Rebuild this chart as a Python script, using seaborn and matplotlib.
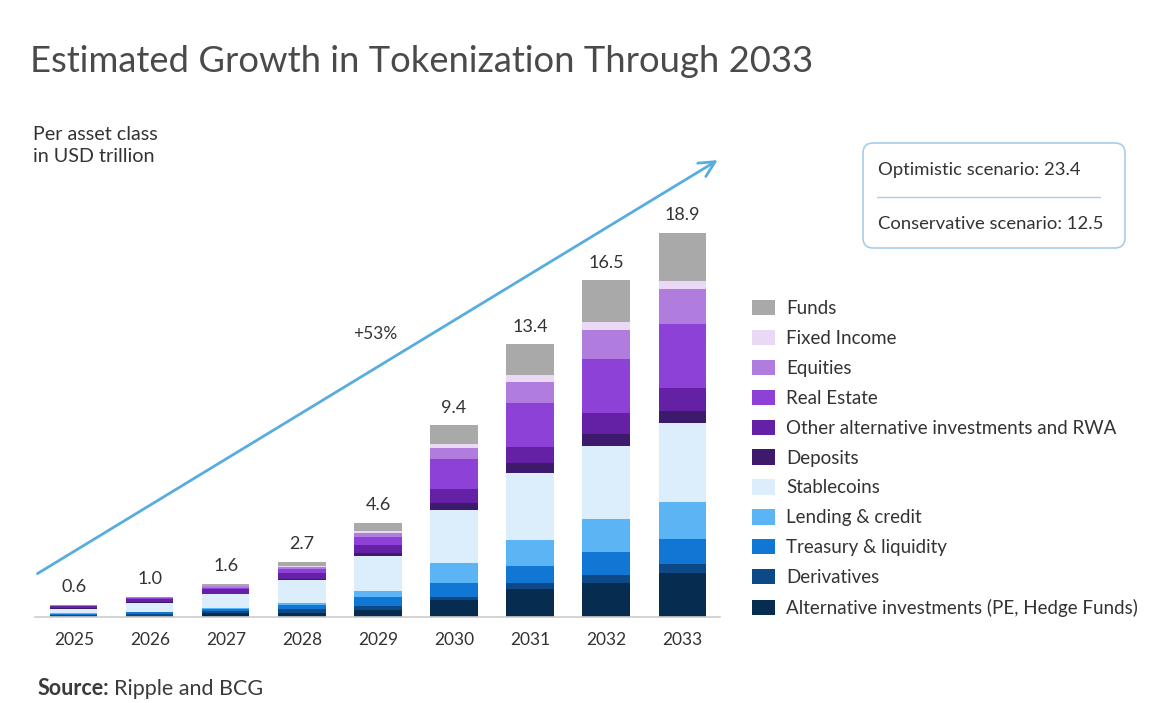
import pandas as pd
import matplotlib.pyplot as plt
import seaborn as sns
from matplotlib.patches import Patch, FancyBboxPatch

# Values, USD trillion per asset class
years = [2025, 2026, 2027, 2028, 2029, 2030, 2031, 2032, 2033]
totals = ["0.6", "1.0", "1.6", "2.7", "4.6", "9.4", "13.4", "16.5", "18.9"]

funds        = [0.01, 0.01, 0.10, 0.21, 0.39, 0.90, 1.51, 2.05, 2.37]
fixed_income = [0.01, 0.01, 0.02, 0.05, 0.11, 0.21, 0.33, 0.41, 0.38]
equities     = [0.02, 0.03, 0.10, 0.11, 0.20, 0.52, 1.03, 1.42, 1.75]
real_estate  = [0.04, 0.08, 0.05, 0.20, 0.41, 1.52, 2.16, 2.63, 3.13]
other_alt    = [0.10, 0.15, 0.22, 0.28, 0.38, 0.64, 0.79, 1.05, 1.10]
deposits     = [0.02, 0.03, 0.04, 0.05, 0.15, 0.38, 0.49, 0.57, 0.59]
stablecoins  = [0.22, 0.42, 0.65, 1.15, 1.73, 2.57, 3.27, 3.57, 3.88]
lending      = [0.02, 0.03, 0.05, 0.10, 0.28, 1.00, 1.31, 1.64, 1.85]
treasury     = [0.06, 0.10, 0.13, 0.20, 0.44, 0.69, 0.82, 1.11, 1.21]
derivatives  = [0.06, 0.08, 0.08, 0.15, 0.18, 0.16, 0.31, 0.41, 0.43]
alt_invest   = [0.04, 0.06, 0.20, 0.22, 0.36, 0.82, 1.36, 1.67, 2.17]

assets = ["Funds", "Fixed Income", "Equities", "Real Estate",
          "Other alternative investments and RWA", "Deposits", "Stablecoins",
          "Lending & credit", "Treasury & liquidity", "Derivatives",
          "Alternative investments (PE, Hedge Funds)"]
series = [funds, fixed_income, equities, real_estate, other_alt, deposits,
          stablecoins, lending, treasury, derivatives, alt_invest]
colors = ["#a9a9a9", "#ead9f5", "#b07ddf", "#8d41d6", "#6521a6", "#3d1a6b",
          "#dcedfb", "#5bb5f4", "#1177d4", "#0e4987", "#062c50"]

rows = []
for name, vals in zip(assets, series):
    for y, v in zip(years, vals):
        rows.append({"year": y, "asset": name, "value": v})
df = pd.DataFrame(rows)

sns.set_theme(style="white")
plt.rcParams["font.family"] = ["Lato", "DejaVu Sans"]
text_color = "#333333"

fig = plt.figure(figsize=(11.69, 7.03), dpi=100)
ax = fig.add_axes([0.03, 0.1223, 0.586, 0.7824])

# stacked bars: first hue level ends on top
sns.histplot(data=df, x="year", hue="asset", weights="value", hue_order=assets,
             palette=dict(zip(assets, colors)), multiple="stack", discrete=True,
             shrink=0.62, alpha=1, linewidth=0, legend=False, ax=ax)

ax.set_xlim(2024.49, 2033.5)
ax.set_ylim(0, 27)
ax.set_xlabel("")
ax.set_ylabel("")
ax.set_yticks([])
ax.set_xticks(years)
ax.set_xticklabels([str(y) for y in years], fontsize=12.5, color=text_color)
ax.tick_params(axis="x", length=0, pad=11)
sns.despine(ax=ax, left=True)
ax.spines["bottom"].set_color("#cccccc")
ax.spines["bottom"].set_linewidth(1.2)

# total labels above each stack
stack_tops = df.groupby("year")["value"].sum()
for y, label in zip(years, totals):
    ax.annotate(label, (y, stack_tops[y]), xytext=(0, 9), textcoords="offset points",
                ha="center", va="baseline", fontsize=13, color=text_color)

# growth arrow
ax.annotate("", xy=(2033.5, 22.5), xytext=(2024.49, 2.06),
            arrowprops=dict(arrowstyle="->", color="#57ace0", lw=2, mutation_scale=28),
            annotation_clip=False)
ax.text(2028.96, 13.9, "+53%", ha="center", va="center", fontsize=12.5, color=text_color)

# title and notes
fig.text(0.026, 0.912, "Estimated Growth in Tokenization Through 2033", fontsize=26.2,
         fontweight="normal", color="#4a4a4a", ha="left", va="center")
fig.text(0.028, 0.793, "Per asset class\nin USD trillion", fontsize=14.2,
         color=text_color, ha="left", va="center", linespacing=1.3)

# legend
handles = [Patch(facecolor=c, edgecolor="none") for c in colors]
fig.legend(handles, assets, loc="upper left", bbox_to_anchor=(752 / 1169, 1 - 300 / 703),
           frameon=False, fontsize=13.5, handlelength=1.23, handleheight=0.88,
           handletextpad=0.6, labelspacing=0.68, borderpad=0, borderaxespad=0,
           labelcolor=text_color)

# scenario box
bx = fig.add_axes([862 / 1169, 1 - 249 / 703, 264 / 1169, 107 / 703])
bx.set_xlim(0, 264)
bx.set_ylim(0, 107)
bx.axis("off")
bx.add_patch(FancyBboxPatch((1, 1), 262, 105, boxstyle="round,pad=0,rounding_size=10",
                            facecolor="white", edgecolor="#a6cdea", lw=1.2))
bx.plot([15, 238], [52, 52], color="#a6cdea", lw=1)
bx.text(16, 79, "Optimistic scenario: 23.4", fontsize=13.3, color=text_color, va="center")
bx.text(16, 25, "Conservative scenario: 12.5", fontsize=13.3, color=text_color, va="center")

# source line
src = fig.text(0.032, 0.006, "Source:", fontsize=15.5, fontweight="bold",
               color="#3a3a3a", ha="left", va="bottom")
fig.canvas.draw()
bb = src.get_window_extent().transformed(fig.transFigure.inverted())
fig.text(bb.x1 + 0.004, 0.006, "Ripple and BCG", fontsize=15.5, color="#3a3a3a",
         ha="left", va="bottom")

fig.savefig("out.png", dpi=100)
